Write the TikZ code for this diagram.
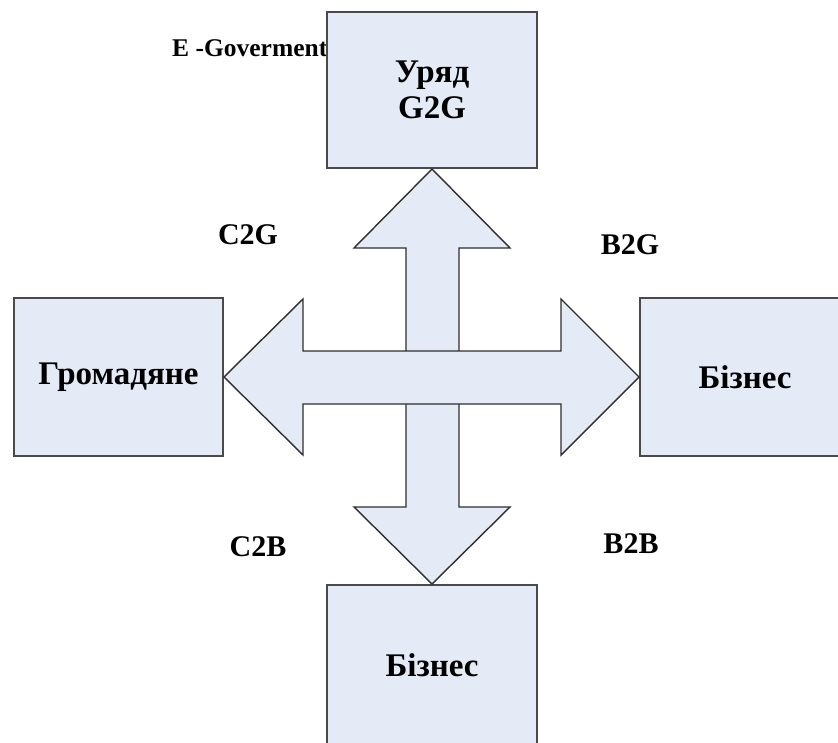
\documentclass[tikz,border=0pt]{standalone}
\usepackage{fontspec}
\setmainfont{Liberation Serif}
\usetikzlibrary{calc}
\definecolor{boxfill}{HTML}{E5EBF6}
\definecolor{boxline}{HTML}{4A4A4A}
\definecolor{arrline}{HTML}{2E2E2E}
\begin{document}
\begin{tikzpicture}[x=1pt,y=-1pt,
  blk/.style={draw=boxline,line width=2pt,fill=boxfill,inner sep=0pt,align=center,
    font=\fontsize{33}{36.5}\selectfont\bfseries},
  bigarrow/.style={draw=arrline,line width=1.4pt,fill=boxfill,line join=miter},
  lbl/.style={inner sep=0pt,font=\fontsize{30}{34}\selectfont\bfseries}]
\useasboundingbox (0,0) rectangle (838,742);
\clip (0,0) rectangle (838,742);
% E-Government label (behind the top box)
\node[inner sep=0pt,anchor=west,font=\fontsize{25.5}{29}\selectfont\bfseries] (eg) at (172,48) {E -Goverment};
% boxes
\node[blk,minimum width=210pt,minimum height=156pt] (gov) at (432,90) {Уряд\\G2G};
\node[blk,minimum width=209pt,minimum height=158pt] (cit) at (118.5,377) {Громадяне};
\node[blk,minimum width=210pt,minimum height=158pt] (bizr) at (745,377) {Бізнес};
\node[blk,minimum width=210pt,minimum height=160pt] (bizb) at (432,665) {Бізнес};
% vertical double arrow
\draw[bigarrow] (gov.south)
  -- ($(gov.south)+(78,79)$) -- ($(gov.south)+(27,79)$)
  -- ($(bizb.north)+(27,-77)$) -- ($(bizb.north)+(78,-77)$)
  -- (bizb.north)
  -- ($(bizb.north)+(-78,-77)$) -- ($(bizb.north)+(-26,-77)$)
  -- ($(gov.south)+(-26,79)$) -- ($(gov.south)+(-78,79)$) -- cycle;
% horizontal double arrow
\draw[bigarrow] (cit.east)
  -- ($(cit.east)+(79,-78)$) -- ($(cit.east)+(79,-26)$)
  -- ($(bizr.west)+(-78,-26)$) -- ($(bizr.west)+(-78,-78)$)
  -- (bizr.west)
  -- ($(bizr.west)+(-78,78)$) -- ($(bizr.west)+(-78,27)$)
  -- ($(cit.east)+(79,27)$) -- ($(cit.east)+(79,78)$) -- cycle;
% labels
\node[lbl] (c2g) at (248,235) {C2G};
\node[lbl] (b2g) at (630,245) {B2G};
\node[lbl] (c2b) at (258,547) {C2B};
\node[lbl] (b2b) at (631,544) {B2B};
\end{tikzpicture}
\end{document}
